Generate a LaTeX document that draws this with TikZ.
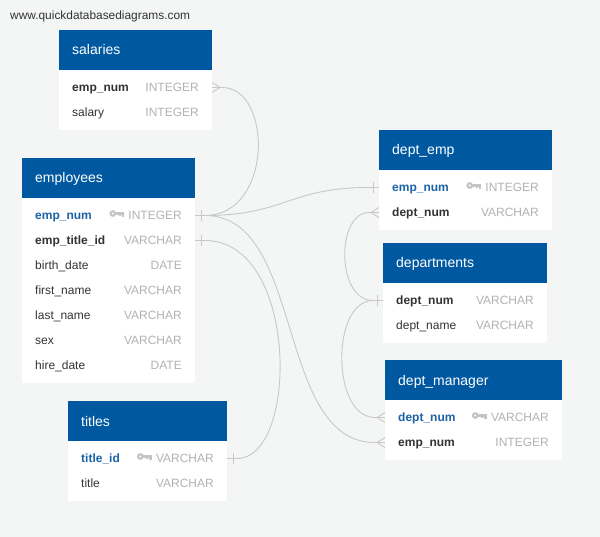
\documentclass[tikz,border=0pt]{standalone}
\usepackage{fontspec}
\setmainfont{Liberation Sans}
\definecolor{hdrblue}{RGB}{0,89,160}
\definecolor{pkblue}{RGB}{27,98,166}
\definecolor{namegray}{RGB}{51,51,51}
\definecolor{typegray}{RGB}{178,178,178}
\definecolor{keygray}{RGB}{196,196,196}
\definecolor{linkgray}{RGB}{200,200,200}
\definecolor{bggray}{RGB}{244,245,245}

\tikzset{
  hdr/.style={fill=hdrblue, anchor=north west, minimum width=#1, minimum height=40pt, inner sep=0pt, outer sep=0pt},
  tbody/.style 2 args={fill=white, anchor=north west, minimum width=#1, minimum height=#2, inner sep=0pt, outer sep=0pt},
  row/.style={anchor=north west, minimum width=#1, minimum height=25pt, inner sep=0pt, outer sep=0pt},
  htext/.style={anchor=base west, text=white, inner sep=0pt, font=\fontsize{14}{16}\selectfont},
  plain/.style={anchor=base west, text=namegray, inner sep=0pt, font=\fontsize{12}{14}\selectfont},
  fk/.style={plain, font=\fontsize{12}{14}\selectfont\bfseries},
  pk/.style={fk, text=pkblue},
  ftype/.style={anchor=base east, text=typegray, inner sep=0pt, font=\fontsize{12}{14}\selectfont},
  link/.style={draw=linkgray, line width=0.9pt},
  dbkey/.pic={
    \fill[keygray, even odd rule] (-15.5,-2) circle (3.4) (-15.5,-2) circle (1.4);
    \fill[keygray] (-12.5,-3.2) rectangle (-4,-0.8);
    \fill[keygray] (-6.5,-2) rectangle (-4,1.6);
    \fill[keygray] (-9.6,-2) rectangle (-7.6,0.8);
  }
}

% one column line of a table: row node, name style, name, type
\newcommand\fieldrow[4]{%
  \node[#2] at ([xshift=13pt,yshift=-4pt]#1.west) {#3};
  \node[ftype] (#1-type) at ([xshift=-13pt,yshift=-4pt]#1.east) {#4};}
% crow's foot (many) on the right or left side of a row
\newcommand\manyE[1]{\draw[link] ([yshift=5pt]#1.east) -- ([xshift=8pt]#1.east) -- ([yshift=-5pt]#1.east);}
\newcommand\manyW[1]{\draw[link] ([yshift=5pt]#1.west) -- ([xshift=-8pt]#1.west) -- ([yshift=-5pt]#1.west);}
% bar (one) on the right or left side of a row
\newcommand\oneE[1]{\draw[link] ([xshift=6pt,yshift=5.5pt]#1.east) -- ([xshift=6pt,yshift=-5.5pt]#1.east);}
\newcommand\oneW[1]{\draw[link] ([xshift=-6pt,yshift=5.5pt]#1.west) -- ([xshift=-6pt,yshift=-5.5pt]#1.west);}

\begin{document}
\begin{tikzpicture}[x=1pt, y=-1pt]
\fill[bggray] (0,0) rectangle (600,537);
\useasboundingbox (0,0) rectangle (600,537);

\node[anchor=base west, inner sep=0pt, text=namegray, font=\fontsize{11.9}{14}\selectfont] (site) at (10,20) {www.quickdatabasediagrams.com};

% ---------- salaries
\node[hdr=153pt] (sal) at (59,30) {};
\node[htext] at ([xshift=13pt,yshift=-5pt]sal.west) {salaries};
\node[tbody={153pt}{60pt}] (sal-body) at (sal.south west) {};
\node[row=153pt] (sal-1) at ([yshift=-5pt]sal-body.north west) {};
\node[row=153pt] (sal-2) at (sal-1.south west) {};
\fieldrow{sal-1}{fk}{emp\_num}{INTEGER}
\fieldrow{sal-2}{plain}{salary}{INTEGER}

% ---------- employees
\node[hdr=173pt] (emp) at (22,158) {};
\node[htext] at ([xshift=13pt,yshift=-5pt]emp.west) {employees};
\node[tbody={173pt}{185pt}] (emp-body) at (emp.south west) {};
\node[row=173pt] (emp-1) at ([yshift=-5pt]emp-body.north west) {};
\node[row=173pt] (emp-2) at (emp-1.south west) {};
\node[row=173pt] (emp-3) at (emp-2.south west) {};
\node[row=173pt] (emp-4) at (emp-3.south west) {};
\node[row=173pt] (emp-5) at (emp-4.south west) {};
\node[row=173pt] (emp-6) at (emp-5.south west) {};
\node[row=173pt] (emp-7) at (emp-6.south west) {};
\fieldrow{emp-1}{pk}{emp\_num}{INTEGER}
\pic at (emp-1-type.west |- emp-1.center) {dbkey};
\fieldrow{emp-2}{fk}{emp\_title\_id}{VARCHAR}
\fieldrow{emp-3}{plain}{birth\_date}{DATE}
\fieldrow{emp-4}{plain}{first\_name}{VARCHAR}
\fieldrow{emp-5}{plain}{last\_name}{VARCHAR}
\fieldrow{emp-6}{plain}{sex}{VARCHAR}
\fieldrow{emp-7}{plain}{hire\_date}{DATE}

% ---------- titles
\node[hdr=159pt] (ti) at (68,401) {};
\node[htext] at ([xshift=13pt,yshift=-5pt]ti.west) {titles};
\node[tbody={159pt}{60pt}] (ti-body) at (ti.south west) {};
\node[row=159pt] (ti-1) at ([yshift=-5pt]ti-body.north west) {};
\node[row=159pt] (ti-2) at (ti-1.south west) {};
\fieldrow{ti-1}{pk}{title\_id}{VARCHAR}
\pic at (ti-1-type.west |- ti-1.center) {dbkey};
\fieldrow{ti-2}{plain}{title}{VARCHAR}

% ---------- dept_emp
\node[hdr=173pt] (de) at (379,130) {};
\node[htext] at ([xshift=13pt,yshift=-5pt]de.west) {dept\_emp};
\node[tbody={173pt}{60pt}] (de-body) at (de.south west) {};
\node[row=173pt] (de-1) at ([yshift=-5pt]de-body.north west) {};
\node[row=173pt] (de-2) at (de-1.south west) {};
\fieldrow{de-1}{pk}{emp\_num}{INTEGER}
\pic at (de-1-type.west |- de-1.center) {dbkey};
\fieldrow{de-2}{fk}{dept\_num}{VARCHAR}

% ---------- departments
\node[hdr=164pt] (dp) at (383,243) {};
\node[htext] at ([xshift=13pt,yshift=-5pt]dp.west) {departments};
\node[tbody={164pt}{60pt}] (dp-body) at (dp.south west) {};
\node[row=164pt] (dp-1) at ([yshift=-5pt]dp-body.north west) {};
\node[row=164pt] (dp-2) at (dp-1.south west) {};
\fieldrow{dp-1}{fk}{dept\_num}{VARCHAR}
\fieldrow{dp-2}{plain}{dept\_name}{VARCHAR}

% ---------- dept_manager
\node[hdr=177pt] (dm) at (385,360) {};
\node[htext] at ([xshift=13pt,yshift=-5pt]dm.west) {dept\_manager};
\node[tbody={177pt}{60pt}] (dm-body) at (dm.south west) {};
\node[row=177pt] (dm-1) at ([yshift=-5pt]dm-body.north west) {};
\node[row=177pt] (dm-2) at (dm-1.south west) {};
\fieldrow{dm-1}{pk}{dept\_num}{VARCHAR}
\pic at (dm-1-type.west |- dm-1.center) {dbkey};
\fieldrow{dm-2}{fk}{emp\_num}{INTEGER}

% ---------- relationships
% salaries.emp_num >- employees.emp_num
\draw[link] (sal-1.east) -- ([xshift=10pt]sal-1.east)
  .. controls +(51,0) and +(68,0) .. ([xshift=10pt]emp-1.east) -- (emp-1.east);
\manyE{sal-1}
% employees.emp_num -- dept_emp.emp_num
\draw[link] (emp-1.east) -- ([xshift=10pt]emp-1.east)
  .. controls +(80,0) and +(-80,0) .. ([xshift=-10pt]de-1.west) -- (de-1.west);
% employees.emp_num -< dept_manager.emp_num
\draw[link] (emp-1.east) -- ([xshift=10pt]emp-1.east)
  .. controls +(100,0) and +(-100,0) .. ([xshift=-10pt]dm-2.west) -- (dm-2.west);
\manyW{dm-2}
\oneE{emp-1}
\oneW{de-1}
% employees.emp_title_id -- titles.title_id
\draw[link] (emp-2.east) -- ([xshift=10pt]emp-2.east)
  .. controls +(94,0) and +(62,0) .. ([xshift=10pt]ti-1.east) -- (ti-1.east);
\oneE{emp-2}
\oneE{ti-1}
% departments.dept_num -< dept_emp.dept_num
\draw[link] (dp-1.west) -- ([xshift=-10pt]dp-1.west)
  .. controls +(-37,0) and +(-33,0) .. ([xshift=-10pt]de-2.west) -- (de-2.west);
\manyW{de-2}
% departments.dept_num -< dept_manager.dept_num
\draw[link] (dp-1.west) -- ([xshift=-10pt]dp-1.west)
  .. controls +(-42,0) and +(-44,0) .. ([xshift=-10pt]dm-1.west) -- (dm-1.west);
\manyW{dm-1}
\oneW{dp-1}
\end{tikzpicture}
\end{document}
